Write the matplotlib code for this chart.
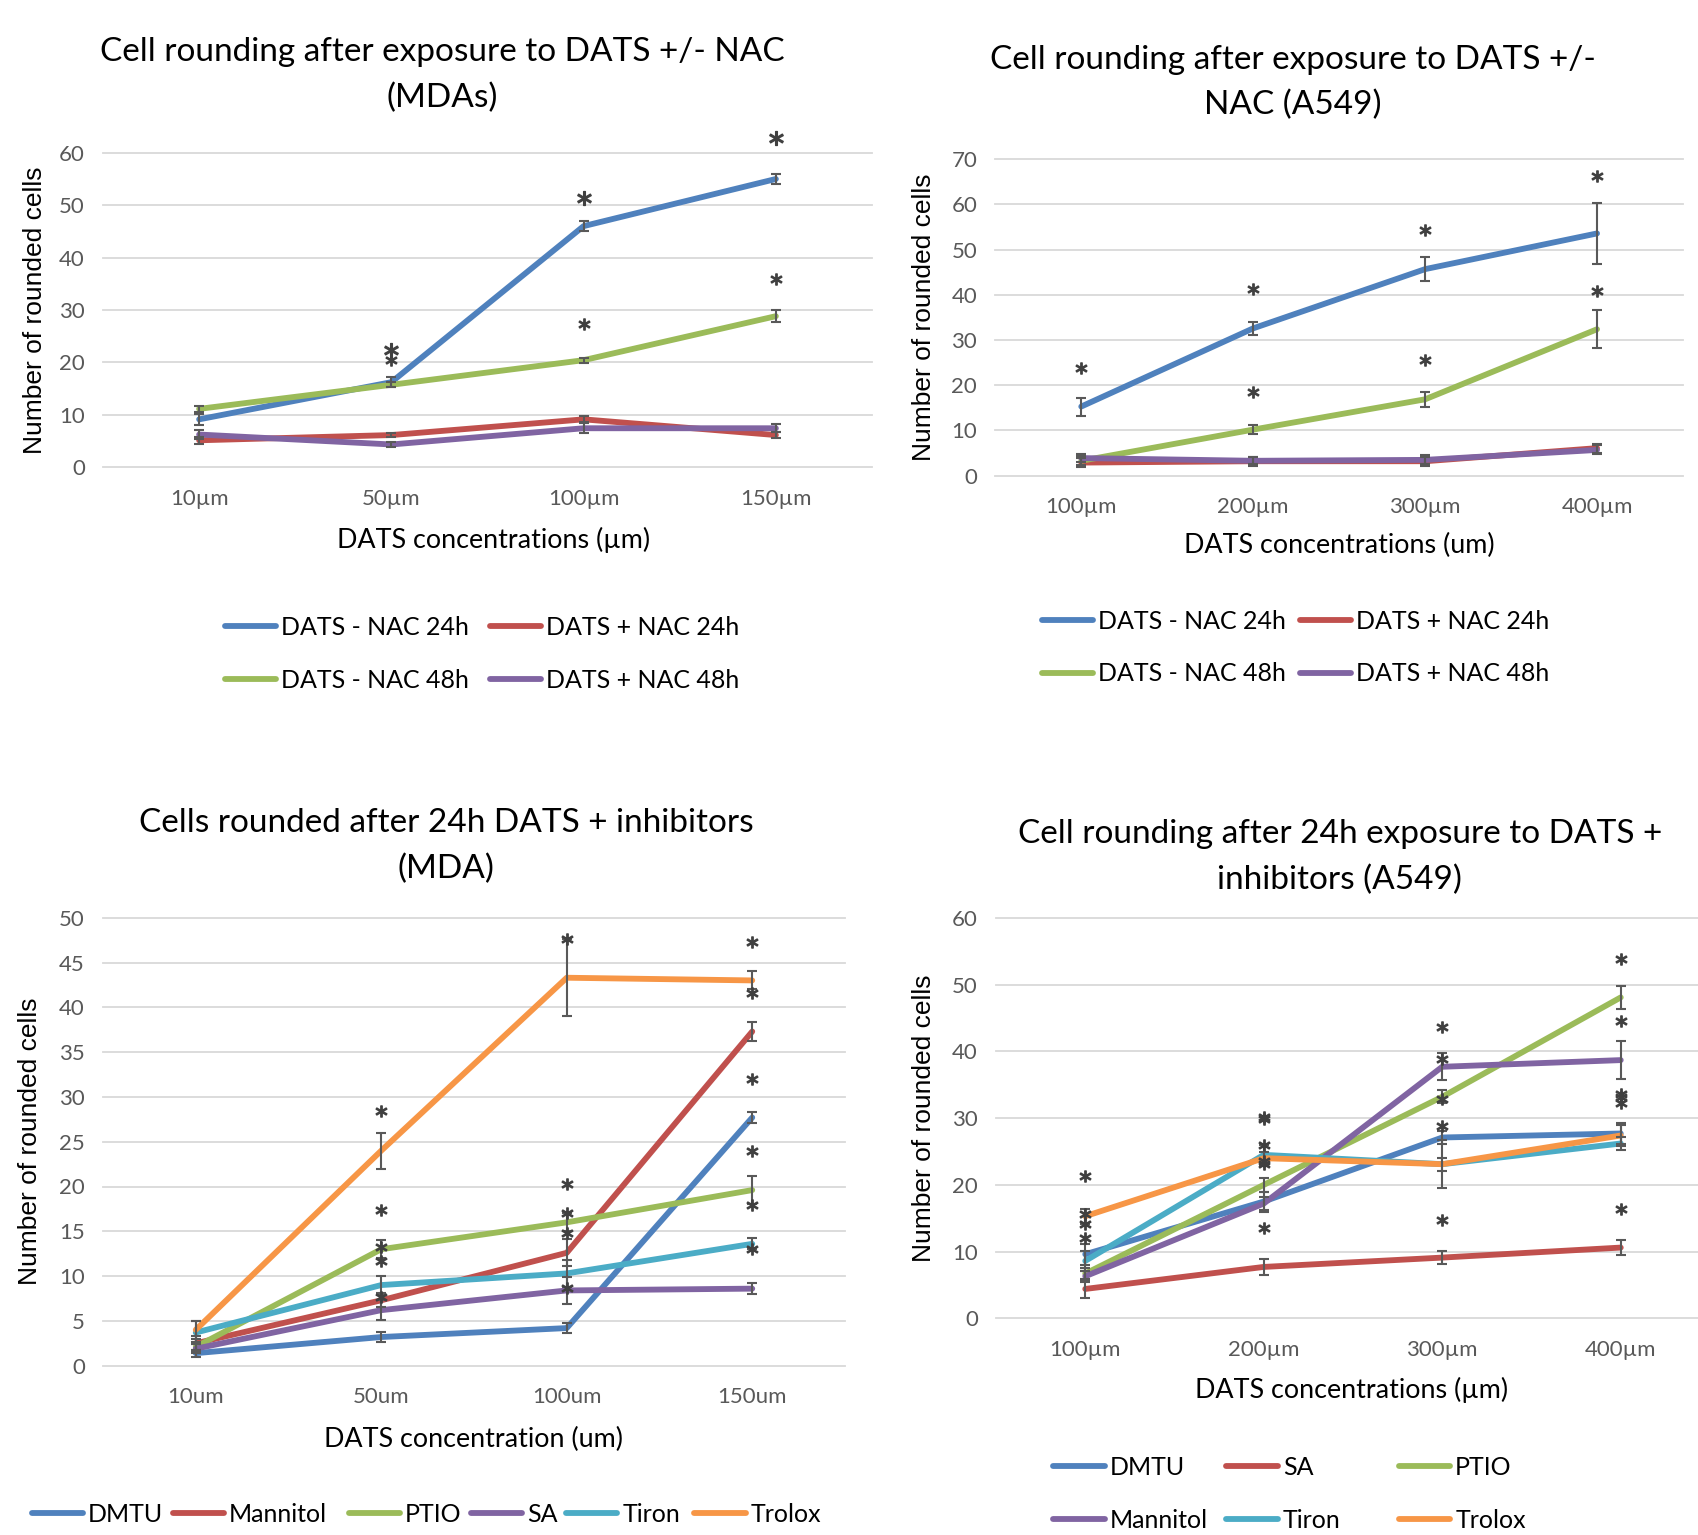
import matplotlib
matplotlib.use('Agg')
import matplotlib.pyplot as plt
from matplotlib.lines import Line2D
import numpy as np

plt.rcParams['font.family'] = ['Lato', 'DejaVu Sans']

W, H = 1699, 1535
fig = plt.figure(figsize=(W / 100, H / 100), dpi=100)

BLUE, RED, GREEN, PURPLE, CYAN, ORANGE = '#4F81BD', '#C0504D', '#9BBB59', '#8064A2', '#4BACC6', '#F79646'
GRID, TICKC, ERRC, STARC = '#D9D9D9', '#595959', '#595959', '#404040'

# ---------------- Panel A: MDA, DATS +/- NAC ----------------
a_cats = ['10µm', '50µm', '100µm', '150µm']
a_labels = ['DATS - NAC 24h', 'DATS + NAC 24h', 'DATS - NAC 48h', 'DATS + NAC 48h']
a_minus24 = [9.1, 16.2, 46.0, 55.0]
a_plus24 = [5.1, 6.1, 9.1, 6.1]
a_minus48 = [11.1, 15.7, 20.4, 28.8]
a_plus48 = [6.2, 4.3, 7.4, 7.4]
a_minus24_err = [1.0, 1.0, 1.0, 1.0]
a_plus24_err = [0.7, 0.4, 0.6, 0.6]
a_minus48_err = [0.6, 0.5, 0.5, 1.2]
a_plus48_err = [0.8, 0.4, 1.0, 0.8]
a_star_x = [1, 2, 3]
a_star_y = [22.3, 51.3, 62.9]
a_star2_x = [1, 2, 3]
a_star2_y = [20.5, 27.3, 35.9]

# ---------------- Panel B: A549, DATS +/- NAC ----------------
b_cats = ['100µm', '200µm', '300µm', '400µm']
b_labels = a_labels
b_minus24 = [15.3, 32.6, 45.7, 53.6]
b_plus24 = [2.9, 3.2, 3.2, 6.1]
b_minus48 = [3.3, 10.2, 16.9, 32.4]
b_plus48 = [3.9, 3.3, 3.5, 5.7]
b_minus24_err = [2.0, 1.5, 2.7, 6.8]
b_plus24_err = [1.0, 1.0, 1.0, 1.0]
b_minus48_err = [1.0, 1.0, 1.7, 4.2]
b_plus48_err = [0.8, 0.8, 1.0, 1.0]
b_star_x = [0, 1, 1, 2, 2, 3, 3]
b_star_y = [23.9, 41.3, 18.6, 54.4, 25.6, 66.2, 40.9]

# ---------------- Panel C: MDA, inhibitors ----------------
c_cats = ['10um', '50um', '100um', '150um']
c_labels = ['DMTU', 'Mannitol', 'PTIO', 'SA', 'Tiron', 'Trolox']
c_dmtu = [1.4, 3.2, 4.2, 27.7]
c_mannitol = [2.5, 7.3, 12.6, 37.3]
c_ptio = [2.1, 13.0, 16.0, 19.6]
c_sa = [1.9, 6.2, 8.4, 8.6]
c_tiron = [3.7, 9.0, 10.3, 13.6]
c_trolox = [4.0, 24.0, 43.3, 43.0]
c_dmtu_err = [0.4, 0.6, 0.6, 0.6]
c_mannitol_err = [0.8, 0.8, 1.5, 1.1]
c_ptio_err = [0.5, 1.0, 1.0, 1.6]
c_sa_err = [0.5, 1.1, 1.5, 0.6]
c_tiron_err = [1.3, 1.0, 1.5, 0.6]
c_trolox_err = [1.0, 2.0, 4.3, 1.0]
c_star_x = [1, 1, 1, 1, 1, 2, 2, 2, 2, 2, 3, 3, 3, 3, 3, 3]
c_star_y = [28.4, 17.4, 13.3, 11.7, 7.7, 47.6, 20.3, 17.0, 14.8, 8.7,
            47.3, 41.6, 32.0, 24.0, 17.9, 13.0]

# ---------------- Panel D: A549, inhibitors ----------------
d_cats = ['100µm', '200µm', '300µm', '400µm']
d_labels = ['DMTU', 'SA', 'PTIO', 'Mannitol', 'Tiron', 'Trolox']
d_dmtu = [9.6, 17.5, 27.1, 27.7]
d_sa = [4.4, 7.7, 9.1, 10.6]
d_ptio = [6.7, 20.0, 33.2, 48.1]
d_mannitol = [6.3, 17.2, 37.7, 38.7]
d_tiron = [8.6, 24.5, 23.1, 26.2]
d_trolox = [15.3, 24.0, 23.1, 27.4]
d_dmtu_err = [1.6, 1.5, 1.0, 1.5]
d_sa_err = [1.4, 1.2, 1.0, 1.1]
d_ptio_err = [0.8, 1.0, 1.0, 1.7]
d_mannitol_err = [0.8, 1.0, 2.0, 2.9]
d_tiron_err = [1.5, 1.5, 3.6, 0.9]
d_trolox_err = [1.1, 1.0, 1.0, 1.5]
d_star_x = [0, 0, 0, 0, 1, 1, 1, 1, 1, 1, 2, 2, 2, 2, 2, 3, 3, 3, 3, 3, 3]
d_star_y = [21.3, 15.6, 14.2, 12.1, 30.2, 29.8, 26.0, 23.6, 23.2, 13.5,
            43.6, 38.8, 32.8, 28.8, 14.7, 53.9, 44.5, 33.6, 33.1, 32.2, 16.4]

LW = 4.2


def add_axes(l, t, r, b):
    return fig.add_axes([l / W, 1 - b / H, (r - l) / W, (b - t) / H])


def style(ax, cats, ymax, ystep):
    ax.set_xlim(-0.5, len(cats) - 0.5)
    ax.set_ylim(0, ymax)
    ticks = np.arange(0, ymax + 0.01, ystep)
    ax.set_yticks(ticks)
    ax.set_yticklabels([f'{v:g}' for v in ticks])
    ax.set_xticks(range(len(cats)))
    ax.set_xticklabels(cats)
    for s in ax.spines.values():
        s.set_visible(False)
    ax.grid(axis='y', color=GRID, lw=1.3, clip_on=False)
    ax.grid(axis='x', visible=False)
    ax.set_axisbelow(True)
    ax.tick_params(axis='both', length=0, labelsize=16, labelcolor=TICKC)
    ax.tick_params(axis='y', pad=13)
    ax.tick_params(axis='x', pad=15.5)
    ax.set_facecolor('none')


def series(ax, vals, errs, color, z):
    x = np.arange(len(vals))
    ax.plot(x, vals, color=color, lw=LW, solid_capstyle='round', solid_joinstyle='round', zorder=z)
    ax.errorbar(x, vals, yerr=errs, fmt='none', ecolor=ERRC, elinewidth=1.5,
                capsize=3.8, capthick=1.5, zorder=10)


def stars(ax, xs, ys, ms=8):
    ax.plot(xs, ys, ls='none', marker='$*$', ms=ms, color=STARC, clip_on=False, zorder=11)


def ftext(x, y, s, **kw):
    fig.text(x / W, 1 - y / H, s, ha='center', va='center', **kw)


def col_legend(handles, labels, x, y):
    leg = fig.legend(handles, labels, loc='upper left', bbox_to_anchor=(x / W, 1 - y / H),
                     frameon=False, fontsize=18, handlelength=2.05, handletextpad=0.2,
                     labelspacing=1.18, borderpad=0, borderaxespad=0)
    return leg


def h(color):
    return Line2D([], [], color=color, lw=LW, solid_capstyle='round')


TFS = 24
XLFS = 19.4
YLFONT = ['Liberation Sans', 'DejaVu Sans']

# ---- Panel A ----
axA = add_axes(103, 152.8, 872, 467)
style(axA, a_cats, 60, 10)
series(axA, a_minus24, a_minus24_err, BLUE, 2)
series(axA, a_plus24, a_plus24_err, RED, 3)
series(axA, a_minus48, a_minus48_err, GREEN, 4)
series(axA, a_plus48, a_plus48_err, PURPLE, 5)
stars(axA, a_star_x, a_star_y, ms=10)
stars(axA, a_star2_x, a_star2_y, ms=8)
ftext(442, 52, 'Cell rounding after exposure to DATS +/- NAC', fontsize=TFS)
ftext(442, 97.5, '(MDAs)', fontsize=TFS)
ftext(494, 540, 'DATS concentrations (µm)', fontsize=XLFS)
ftext(35, 310, 'Number of rounded cells', fontsize=19, rotation=90, family=YLFONT)
col_legend([h(BLUE), h(GREEN)], [a_labels[0], a_labels[2]], 225, 616)
col_legend([h(RED), h(PURPLE)], [a_labels[1], a_labels[3]], 490, 616)

# ---- Panel B ----
axB = add_axes(995.3, 159.3, 1683, 475.7)
style(axB, b_cats, 70, 10)
series(axB, b_minus24, b_minus24_err, BLUE, 2)
series(axB, b_plus24, b_plus24_err, RED, 3)
series(axB, b_minus48, b_minus48_err, GREEN, 4)
series(axB, b_plus48, b_plus48_err, PURPLE, 5)
stars(axB, b_star_x, b_star_y, ms=8)
ftext(1292.6, 59.6, 'Cell rounding after exposure to DATS +/-', fontsize=TFS)
ftext(1292.6, 105.1, 'NAC (A549)', fontsize=TFS)
ftext(1339, 545, 'DATS concentrations (um)', fontsize=XLFS)
ftext(924, 317, 'Number of rounded cells', fontsize=19, rotation=90, family=YLFONT)
col_legend([h(BLUE), h(GREEN)], [b_labels[0], b_labels[2]], 1042, 610)
col_legend([h(RED), h(PURPLE)], [b_labels[1], b_labels[3]], 1300, 610)

# ---- Panel C ----
axC = add_axes(103, 917.7, 845, 1365.7)
style(axC, c_cats, 50, 5)
c_cols = [BLUE, RED, GREEN, PURPLE, CYAN, ORANGE]
c_vals = [c_dmtu, c_mannitol, c_ptio, c_sa, c_tiron, c_trolox]
c_errs = [c_dmtu_err, c_mannitol_err, c_ptio_err, c_sa_err, c_tiron_err, c_trolox_err]
for i, (v, e, c) in enumerate(zip(c_vals, c_errs, c_cols)):
    series(axC, v, e, c, 2 + i)
stars(axC, c_star_x, c_star_y, ms=8)
ftext(446.4, 823.5, 'Cells rounded after 24h DATS + inhibitors', fontsize=TFS)
ftext(446.4, 869, '(MDA)', fontsize=TFS)
ftext(474, 1439, 'DATS concentration (um)', fontsize=XLFS)
ftext(30.3, 1141, 'Number of rounded cells', fontsize=19, rotation=90, family=YLFONT)
for c, lab, x in zip(c_cols, c_labels, [31.8, 173, 349, 470.6, 566, 694.5]):
    col_legend([h(c)], [lab], x, 1503)

# ---- Panel D ----
axD = add_axes(996, 918, 1710, 1318.3)
style(axD, d_cats, 60, 10)
d_cols = [BLUE, RED, GREEN, PURPLE, CYAN, ORANGE]
d_vals = [d_dmtu, d_sa, d_ptio, d_mannitol, d_tiron, d_trolox]
d_errs = [d_dmtu_err, d_sa_err, d_ptio_err, d_mannitol_err, d_tiron_err, d_trolox_err]
for i, (v, e, c) in enumerate(zip(d_vals, d_errs, d_cols)):
    series(axD, v, e, c, 2 + i)
stars(axD, d_star_x, d_star_y, ms=8)
ftext(1339.8, 834.3, 'Cell rounding after 24h exposure to DATS +', fontsize=TFS)
ftext(1339.8, 879.8, 'inhibitors (A549)', fontsize=TFS)
ftext(1352, 1390, 'DATS concentrations (µm)', fontsize=XLFS)
ftext(924, 1118, 'Number of rounded cells', fontsize=19, rotation=90, family=YLFONT)
col_legend([h(BLUE), h(PURPLE)], [d_labels[0], d_labels[3]], 1053.5, 1456)
col_legend([h(RED), h(CYAN)], [d_labels[1], d_labels[4]], 1226.5, 1456)
col_legend([h(GREEN), h(ORANGE)], [d_labels[2], d_labels[5]], 1399, 1456)

fig.savefig('out.png', dpi=100, facecolor='white')
